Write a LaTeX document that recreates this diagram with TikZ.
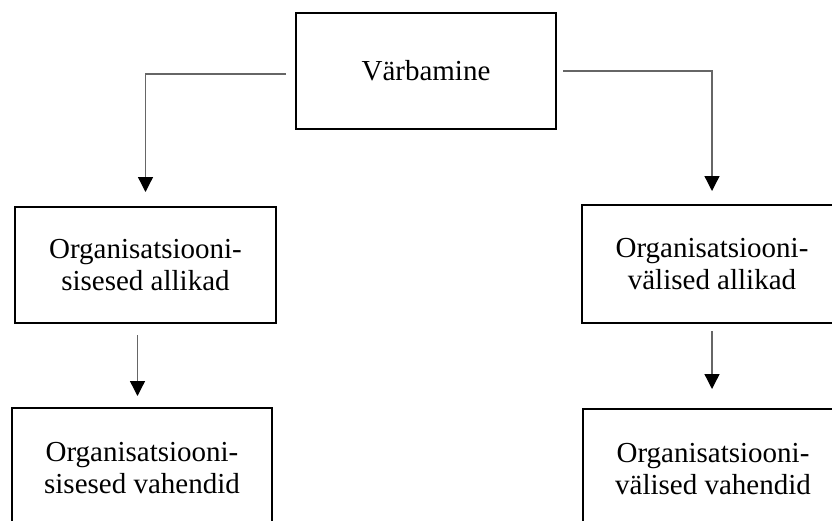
\documentclass[tikz,border=0pt]{standalone}
\usepackage{fontspec}
\setmainfont{Liberation Serif}
\usetikzlibrary{arrows.meta,positioning}

\begin{document}
\begin{tikzpicture}[
  x=1pt, y=-1pt,
  box/.style={draw=black, line width=2pt, minimum width=260pt, minimum height=116pt,
    font=\fontsize{29}{32}\selectfont, align=center, inner sep=2pt},
  link/.style={-{Triangle[length=15pt, width=15pt, color=black]}, line width=1.3pt, draw=black!60}
]
  \clip (0,0) rectangle (832,520);

  % Top
  \node[box] (vrb) at (426, 71) {Värbamine};

  % Middle row -- sources
  \node[box, minimum width=261pt] (sisall) at (145.5,265) {Organisatsiooni-\\sisesed allikad};
  \node[box, minimum height=118pt] (valall) at (712,264) {Organisatsiooni-\\välised allikad};

  % Bottom row -- means (cut off by the page edge)
  \node[box, minimum height=120pt] (sisvah) at (142,468) {Organisatsiooni-\\sisesed vahendid};
  \node[box, minimum height=120pt] (valvah) at (713,469) {Organisatsiooni-\\välised vahendid};

  % Elbow links from the top box
  \draw[link, shorten <=9pt, shorten >=14pt] ([yshift=-3pt]vrb.west) -| (sisall.north);
  \draw[link, shorten <=6pt, shorten >=13pt] (vrb.east) -| (valall.north);

  % Links down to the means
  \draw[link, shorten <=11pt, shorten >=11pt]
    ([xshift=-8pt]sisall.south) -- ([xshift=-8pt]sisall.south |- sisvah.north);
  \draw[link, shorten <=7pt, shorten >=19pt]
    (valall.south) -- (valall.south |- valvah.north);

\end{tikzpicture}
\end{document}
